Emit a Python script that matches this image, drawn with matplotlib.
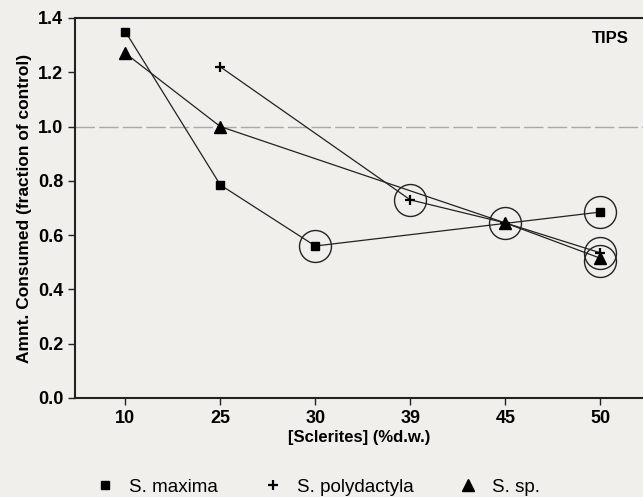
import numpy as np
import matplotlib.pyplot as plt
from matplotlib.lines import Line2D

plt.rcParams['font.family'] = ['Liberation Sans', 'DejaVu Sans']

x_labels = ["10", "25", "30", "39", "45", "50"]

# S. maxima
maxima_x = [0, 1, 2, 5]
maxima_y = [1.35, 0.785, 0.56, 0.685]
# S. polydactyla
poly_x = [1, 3, 4, 5]
poly_y = [1.22, 0.73, 0.645, 0.535]
# S. sp.
sp_x = [0, 1, 4, 5]
sp_y = [1.27, 1.0, 0.645, 0.515]

# circled points (x index, y)
circ_x = [2, 3, 4, 5, 5, 5]
circ_y = [0.56, 0.73, 0.645, 0.685, 0.535, 0.505]

bg = "#f1efec"
fig = plt.figure(figsize=(6.43, 4.97), dpi=100, facecolor=bg)
ax = fig.add_axes([75/643, 1 - 398/497, 1 - 75/643, (398 - 18)/497])
ax.set_facecolor(bg)

ax.axhline(1.0, color="#a8a8a8", lw=1.0, ls=(0, (14, 3)), zorder=1)

ax.plot(maxima_x, maxima_y, color="#222222", lw=0.9, marker="s", ms=6,
        mfc="black", mec="black", zorder=3)
ax.plot(poly_x, poly_y, color="#222222", lw=0.9, marker="+", ms=7, mew=1.6,
        mec="black", zorder=3)
ax.plot(sp_x, sp_y, color="#222222", lw=0.9, marker="^", ms=9,
        mfc="black", mec="black", zorder=3)

ax.plot(circ_x, circ_y, ls="none", marker="o", ms=23, mfc="none",
        mec="#222222", mew=1.0, zorder=2)

ax.set_xlim(-0.53, 5.45)
ax.set_ylim(0, 1.4)
ax.set_xticks(range(len(x_labels)))
ax.set_xticklabels(x_labels)
ax.set_yticks(np.arange(0, 1.41, 0.2))
ax.set_yticklabels([f"{v:.1f}" for v in np.arange(0, 1.41, 0.2)])
ax.tick_params(axis="both", direction="out", length=5, width=1.0,
               labelsize=13, color="#222222")
for lab in ax.get_xticklabels() + ax.get_yticklabels():
    lab.set_fontweight("bold")

for s in ["left", "bottom", "top"]:
    ax.spines[s].set_linewidth(1.5)
    ax.spines[s].set_color("#222222")
ax.spines["right"].set_visible(False)

ax.set_xlabel("[Sclerites] (%d.w.)", fontsize=12, fontweight="bold", labelpad=2)
ax.set_ylabel("Amnt. Consumed (fraction of control)", fontsize=12.5,
              fontweight="bold", labelpad=4)

ax.text(0.975, 0.945, "TIPS", transform=ax.transAxes, ha="right", va="center",
        fontsize=12, fontweight="bold")

handles = [
    Line2D([], [], ls="none", marker="s", ms=6, color="black"),
    Line2D([], [], ls="none", marker="+", ms=7, mew=1.6, color="black"),
    Line2D([], [], ls="none", marker="^", ms=9, color="black"),
]
fig.legend(handles, ["S. maxima", "S. polydactyla", "S. sp."],
           loc="center left", bbox_to_anchor=(88/643, 0.02), ncol=3,
           frameon=False, fontsize=13.5, handlelength=1.0,
           columnspacing=2.4, handletextpad=0.8, borderaxespad=0)

fig.savefig("out.png", dpi=100, facecolor=bg)
